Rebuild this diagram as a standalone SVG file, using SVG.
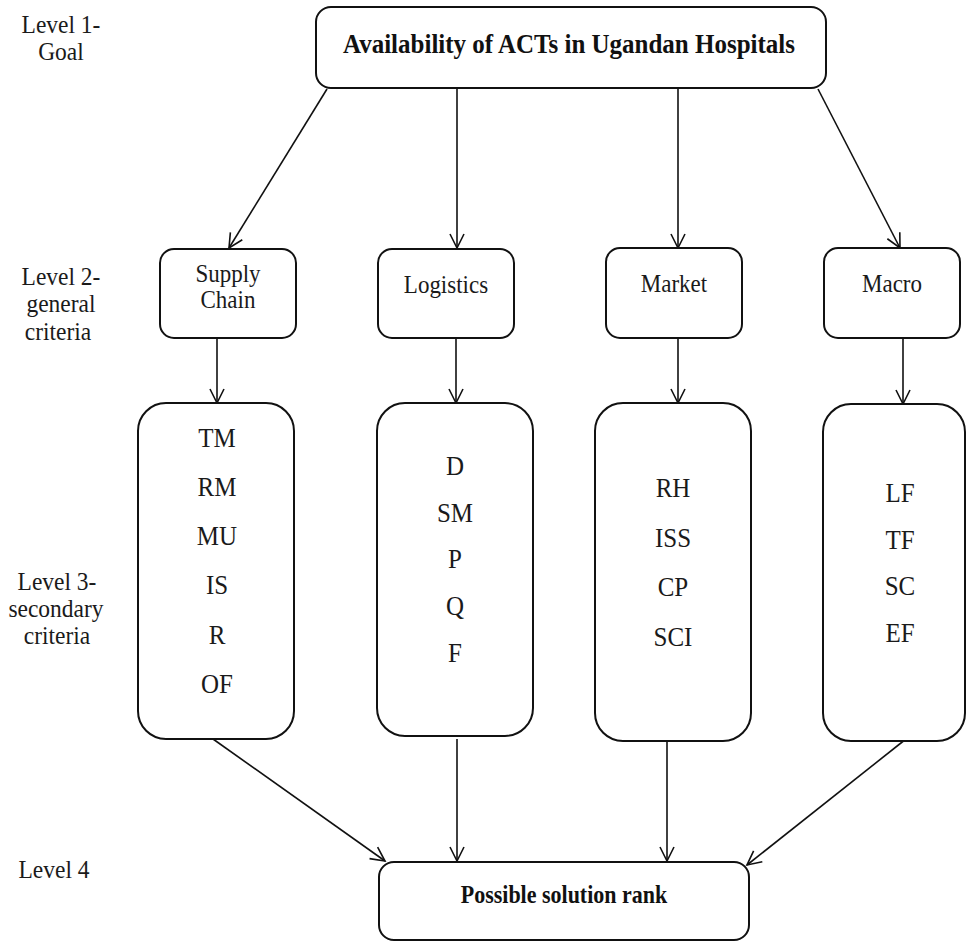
<svg xmlns="http://www.w3.org/2000/svg" width="967" height="943" viewBox="0 0 967 943">
  <style>
    .bg { fill: #ffffff; }
    .box { fill: #ffffff; stroke: #111111; stroke-width: 2; }
    .edge { fill: none; stroke: #111111; stroke-width: 1.6; }
    .lvl { font-family: "Liberation Serif", "Times New Roman", serif; font-size: 23.5px; fill: #1a1a1a; text-anchor: middle; }
    .crit { font-family: "Liberation Serif", "Times New Roman", serif; font-size: 23px; fill: #1a1a1a; text-anchor: middle; }
    .sub { font-family: "Liberation Serif", "Times New Roman", serif; font-size: 25px; fill: #1a1a1a; text-anchor: middle; }
    .head { font-family: "Liberation Serif", "Times New Roman", serif; font-weight: bold; fill: #111111; text-anchor: middle; }
  </style>
  <defs>
    <marker id="arrow" markerUnits="userSpaceOnUse" markerWidth="20" markerHeight="20" viewBox="-16 -10 20 20" refX="0" refY="0" orient="auto">
      <path d="M-14,-7 L0,0 L-14,7" fill="none" stroke="#111111" stroke-width="1.6"/>
    </marker>
  </defs>

  <rect class="bg" x="0" y="0" width="967" height="943"/>

  <!-- level captions on the left (lettering slightly tall: y values are pre-divided by 1.1) -->
  <g id="level-captions">
    <g transform="scale(1,1.1)">
      <text class="lvl" x="61" y="30">Level 1-</text>
      <text class="lvl" x="61" y="54.5">Goal</text>
      <text class="lvl" x="61" y="259.1">Level 2-</text>
      <text class="lvl" x="61" y="283.6">general</text>
      <text class="lvl" x="58" y="309.1">criteria</text>
      <text class="lvl" x="57" y="536.4">Level 3-</text>
      <text class="lvl" x="56" y="560.9">secondary</text>
      <text class="lvl" x="57" y="585.5">criteria</text>
      <text class="lvl" x="54" y="798.2">Level 4</text>
    </g>
  </g>

  <!-- connectors -->
  <g id="connectors">
    <line class="edge" x1="327" y1="89" x2="229" y2="248" marker-end="url(#arrow)"/>
    <line class="edge" x1="457" y1="89" x2="457" y2="248" marker-end="url(#arrow)"/>
    <line class="edge" x1="678" y1="89" x2="678" y2="248" marker-end="url(#arrow)"/>
    <line class="edge" x1="818" y1="89" x2="900" y2="248" marker-end="url(#arrow)"/>

    <line class="edge" x1="217" y1="338" x2="217" y2="403" marker-end="url(#arrow)"/>
    <line class="edge" x1="456" y1="338" x2="456" y2="403" marker-end="url(#arrow)"/>
    <line class="edge" x1="678" y1="338" x2="678" y2="403" marker-end="url(#arrow)"/>
    <line class="edge" x1="903" y1="338" x2="903" y2="404" marker-end="url(#arrow)"/>

    <line class="edge" x1="213" y1="739" x2="385" y2="861" marker-end="url(#arrow)"/>
    <line class="edge" x1="457" y1="739" x2="457" y2="861" marker-end="url(#arrow)"/>
    <line class="edge" x1="667" y1="738" x2="667" y2="861" marker-end="url(#arrow)"/>
    <line class="edge" x1="906" y1="739" x2="747" y2="865" marker-end="url(#arrow)"/>
  </g>

  <!-- level 1: goal -->
  <g id="goal">
    <rect class="box" x="316" y="7" width="510" height="81" rx="15"/>
    <g transform="scale(1,1.1)">
      <text class="head" x="569" y="48.2" font-size="25">Availability of ACTs in Ugandan Hospitals</text>
    </g>
  </g>

  <!-- level 2: general criteria -->
  <g id="supply-chain">
    <rect class="box" x="160" y="249" width="136" height="89" rx="14"/>
    <g transform="scale(1,1.1)">
      <text class="crit" x="228" y="256.4" font-size="21">Supply</text>
      <text class="crit" x="228" y="280" font-size="21">Chain</text>
    </g>
  </g>
  <g id="logistics">
    <rect class="box" x="378" y="249" width="136" height="89" rx="14"/>
    <g transform="scale(1,1.1)">
      <text class="crit" x="446" y="266.4">Logistics</text>
    </g>
  </g>
  <g id="market">
    <rect class="box" x="606" y="248" width="136" height="90" rx="14"/>
    <g transform="scale(1,1.1)">
      <text class="crit" x="674" y="265.5">Market</text>
    </g>
  </g>
  <g id="macro">
    <rect class="box" x="824" y="248" width="136" height="90" rx="14"/>
    <g transform="scale(1,1.1)">
      <text class="crit" x="892" y="265.5">Macro</text>
    </g>
  </g>

  <!-- level 3: secondary criteria -->
  <g id="supply-chain-factors">
    <rect class="box" x="138" y="403" width="156" height="336" rx="28"/>
    <g transform="scale(1,1.1)">
      <text class="sub" x="217" y="406.4">TM</text>
      <text class="sub" x="217" y="450.9">RM</text>
      <text class="sub" x="217" y="495.5">MU</text>
      <text class="sub" x="217" y="540">IS</text>
      <text class="sub" x="217" y="585.5">R</text>
      <text class="sub" x="217" y="630">OF</text>
    </g>
  </g>
  <g id="logistics-factors">
    <rect class="box" x="377" y="403" width="156" height="333" rx="28"/>
    <g transform="scale(1,1.1)">
      <text class="sub" x="455" y="431.8">D</text>
      <text class="sub" x="455" y="474.5">SM</text>
      <text class="sub" x="455" y="516.4">P</text>
      <text class="sub" x="455" y="559.1">Q</text>
      <text class="sub" x="455" y="601.8">F</text>
    </g>
  </g>
  <g id="market-factors">
    <rect class="box" x="595" y="403" width="156" height="338" rx="28"/>
    <g transform="scale(1,1.1)">
      <text class="sub" x="673" y="451.8">RH</text>
      <text class="sub" x="673" y="497.3">ISS</text>
      <text class="sub" x="673" y="541.8">CP</text>
      <text class="sub" x="673" y="587.3">SCI</text>
    </g>
  </g>
  <g id="macro-factors">
    <rect class="box" x="823" y="404" width="142" height="337" rx="28"/>
    <g transform="scale(1,1.1)">
      <text class="sub" x="900" y="456.4">LF</text>
      <text class="sub" x="900" y="499.1">TF</text>
      <text class="sub" x="900" y="540.9">SC</text>
      <text class="sub" x="900" y="583.6">EF</text>
    </g>
  </g>

  <!-- level 4: result -->
  <g id="solution-rank">
    <rect class="box" x="379" y="862" width="370" height="78" rx="15"/>
    <g transform="scale(1,1.1)">
      <text class="head" x="564" y="820.9" font-size="22">Possible solution rank</text>
    </g>
  </g>
</svg>
